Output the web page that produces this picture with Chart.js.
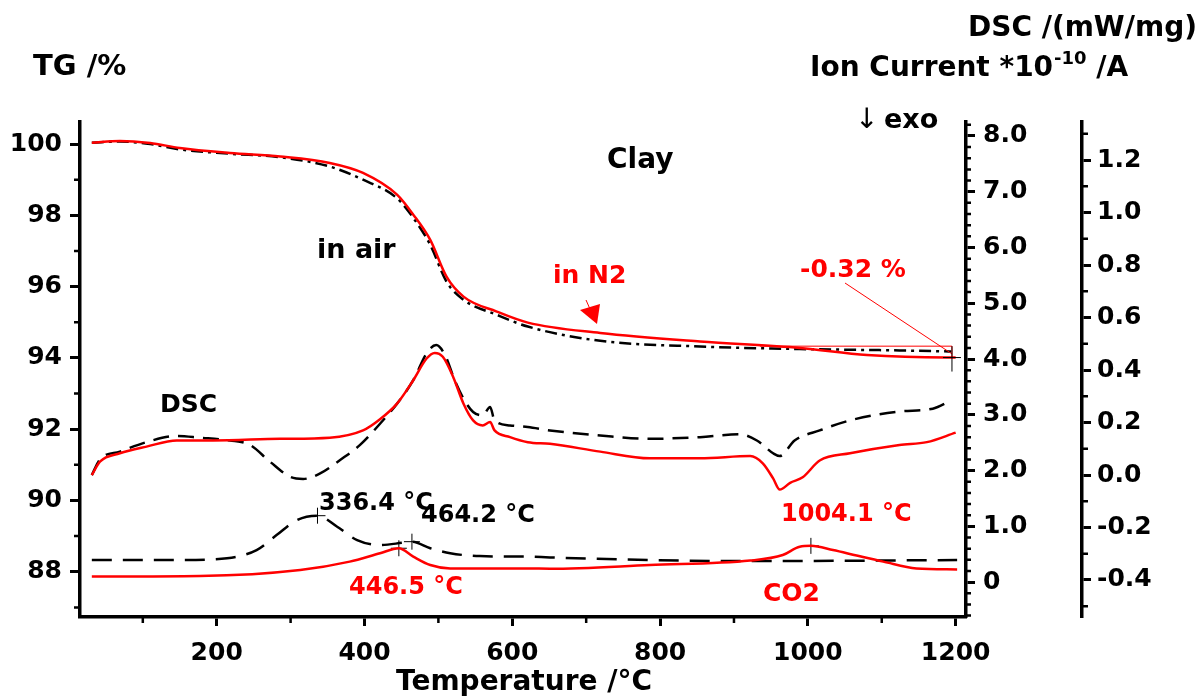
<!DOCTYPE html>
<html>
<head>
<meta charset="utf-8">
<script src="https://cdn.jsdelivr.net/npm/chart.js@4.4.0/dist/chart.umd.min.js"></script>
<style>
  html, body { margin: 0; padding: 0; background: #fff; }
  #wrap { width: 1204px; height: 697px; }
</style>
</head>
<body>
<div id="wrap"><canvas id="chart" width="1204" height="697"></canvas></div>
<script>
// --- values ---
// TG (%) in N2 and in air
const tgN2Temp = [31, 69, 110, 150, 218, 286, 353, 398, 444, 466, 489, 511, 534, 579, 621, 719, 854, 989, 1080, 1188, 1200];
const tgN2 = [100.04, 100.09, 100.03, 99.89, 99.75, 99.65, 99.47, 99.19, 98.58, 98.02, 97.31, 96.28, 95.72, 95.30, 94.99, 94.70, 94.46, 94.28, 94.08, 94.01, 94.01];
const tgAirTemp = [31, 69, 110, 150, 218, 286, 353, 398, 444, 466, 489, 511, 534, 579, 621, 719, 854, 989, 1124, 1194];
const tgAir = [100.04, 100.07, 100.0, 99.85, 99.73, 99.63, 99.37, 99.0, 98.48, 97.93, 97.17, 96.14, 95.63, 95.21, 94.88, 94.48, 94.32, 94.25, 94.21, 94.18];

// DSC (mW/mg)
const dscN2Temp = [31, 42, 69, 105, 146, 195, 286, 353, 398, 421, 444, 466, 484, 495, 506, 520, 534, 547, 560, 570, 576, 597, 621, 651, 719, 786, 854, 922, 939, 953, 962, 976, 993, 1016, 1057, 1124, 1161, 1200];
const dscN2 = [1.92, 2.16, 2.31, 2.43, 2.54, 2.54, 2.57, 2.59, 2.72, 2.92, 3.2, 3.62, 4.01, 4.11, 4.04, 3.68, 3.2, 2.9, 2.81, 2.87, 2.72, 2.6, 2.51, 2.48, 2.34, 2.22, 2.22, 2.26, 2.13, 1.86, 1.66, 1.78, 1.88, 2.18, 2.31, 2.46, 2.51, 2.68];
const dscAirTemp = [31, 42, 69, 105, 146, 177, 218, 245, 272, 299, 317, 340, 367, 394, 421, 444, 466, 484, 497, 509, 522, 534, 547, 560, 570, 576, 597, 621, 651, 719, 786, 854, 908, 931, 953, 962, 982, 1016, 1057, 1124, 1169, 1194];
const dscAir = [1.92, 2.2, 2.34, 2.51, 2.62, 2.59, 2.54, 2.46, 2.16, 1.89, 1.85, 1.95, 2.19, 2.46, 2.84, 3.2, 3.62, 4.1, 4.25, 4.07, 3.62, 3.29, 3.05, 2.99, 3.14, 2.9, 2.81, 2.78, 2.72, 2.63, 2.57, 2.6, 2.65, 2.54, 2.31, 2.26, 2.54, 2.72, 2.9, 3.06, 3.11, 3.26];

// Ion current CO2 (*10^-10 A)
const co2AirTemp = [31, 150, 214, 254, 281, 309, 336.4, 363, 390, 421, 452, 464.2, 489, 516, 556, 621, 651, 786, 922, 1202];
const co2Air = [-0.324, -0.324, -0.317, -0.286, -0.229, -0.171, -0.155, -0.197, -0.248, -0.267, -0.258, -0.254, -0.279, -0.298, -0.309, -0.311, -0.314, -0.324, -0.328, -0.324];
const co2N2Temp = [31, 177, 313, 380, 421, 446.5, 466, 489, 516, 621, 651, 786, 922, 966, 989, 1004.1, 1034, 1066, 1102, 1147, 1202];
const co2N2 = [-0.387, -0.385, -0.362, -0.33, -0.298, -0.279, -0.311, -0.343, -0.356, -0.356, -0.357, -0.343, -0.326, -0.305, -0.273, -0.27, -0.286, -0.307, -0.33, -0.356, -0.36];

// peak markers
const airPeakTemp = [336.4, 464.2];
const airPeakVal = [-0.155, -0.254];
const n2PeakTemp = [446.5, 1004.1];
const n2PeakVal = [-0.279, -0.27];

// mass step at the end of the N2 run (-0.32 %)
const stepTemp = [935, 1195];
const stepTg = [94.33, 94.01];

// ticks
const tempTicks = [200, 400, 600, 800, 1000, 1200];
const tgTicks = [88, 90, 92, 94, 96, 98, 100];
const dscTicks = [0, 1, 2, 3, 4, 5, 6, 7, 8];
const ionTicks = [-0.4, -0.2, 0, 0.2, 0.4, 0.6, 0.8, 1.0, 1.2];

const RED = '#ff0000';
const FONT = 'DejaVu Sans';

function pts(xs, ys) {
    return xs.map((x, i) => ({ x: x, y: ys[i] }));
}

function fixedTicks(list) {
    return function (scale) {
        scale.ticks = list.map(v => ({ value: v }));
    };
}

function minorList(min, max, step, skipEvery) {
    const out = [];
    for (let i = Math.ceil(min / step); i * step <= max + 1e-9; i++) {
        if (i % skipEvery !== 0) out.push(+(i * step).toFixed(3));
    }
    return out;
}

// minor ticks, drawn by hand (Chart.js has none)
const minorTicks = {
    id: 'minorTicks',
    afterDraw(chart) {
        const ctx = chart.ctx;
        const s = chart.scales;
        ctx.save();
        ctx.strokeStyle = '#000';
        ctx.lineWidth = 2.5;
        ctx.beginPath();
        minorList(s.x.min, s.x.max, 100, 2).forEach(v => {
            const px = s.x.getPixelForValue(v);
            ctx.moveTo(px, s.x.top); ctx.lineTo(px, s.x.top + 6);
        });
        minorList(s.y.min, s.y.max, 1, 2).forEach(v => {
            const py = s.y.getPixelForValue(v);
            ctx.moveTo(s.y.right, py); ctx.lineTo(s.y.right - 6, py);
        });
        minorList(s.y1.min, s.y1.max, 0.2, 5).forEach(v => {
            const py = s.y1.getPixelForValue(v);
            ctx.moveTo(s.y1.left, py); ctx.lineTo(s.y1.left + 5, py);
        });
        minorList(s.y2.min, s.y2.max, 0.1, 2).forEach(v => {
            const py = s.y2.getPixelForValue(v);
            ctx.moveTo(s.y2.left, py); ctx.lineTo(s.y2.left + 6, py);
        });
        ctx.stroke();
        ctx.restore();
    }
};

// titles, labels and the small annotations
const labels = {
    id: 'labels',
    afterDraw(chart) {
        const ctx = chart.ctx;
        const s = chart.scales;
        ctx.save();
        ctx.textBaseline = 'alphabetic';

        const text = (str, x, y, size, color, align, weight) => {
            ctx.font = (weight || 'bold') + ' ' + size + 'px "' + FONT + '"';
            ctx.fillStyle = color || '#000';
            ctx.textAlign = align || 'left';
            ctx.fillText(str, x, y);
        };

        text('TG /%', 33, 75, 29);
        text('DSC /(mW/mg)', 1197, 36, 28, '#000', 'right');

        // Ion Current *10^-10 /A
        ctx.font = 'bold 28px "' + FONT + '"';
        let x = 810;
        text('Ion Current *10', x, 76, 28);
        x += ctx.measureText('Ion Current *10').width + 1;
        ctx.font = 'bold 18px "' + FONT + '"';
        text('-10', x, 64, 18);
        ctx.font = 'bold 18px "' + FONT + '"';
        x += ctx.measureText('-10').width;
        text(' /A', x, 76, 28);

        text('\u2193', 855, 128, 28, '#000', 'left', 'normal');
        text('exo', 884, 128, 27);
        text('Clay', 607, 168, 28);
        text('in air', 317, 258, 27);
        text('in N2', 553, 283, 25, RED);
        text('-0.32 %', 800, 277, 25, RED);
        text('DSC', 160, 412, 25);
        text('336.4 \u00B0C', 319, 510, 24);
        text('464.2 \u00B0C', 421, 522, 24);
        text('446.5 \u00B0C', 349, 594, 24, RED);
        text('1004.1 \u00B0C', 781, 521, 24, RED);
        text('CO2', 763, 601, 25, RED);
        text('Temperature /\u00B0C', 524, 690, 28, '#000', 'center');

        // red arrow pointing at the N2 curve
        ctx.strokeStyle = RED;
        ctx.fillStyle = RED;
        ctx.lineWidth = 1;
        ctx.beginPath();
        ctx.moveTo(586, 300); ctx.lineTo(590, 309);
        ctx.stroke();
        ctx.beginPath();
        ctx.moveTo(580, 310); ctx.lineTo(600, 304); ctx.lineTo(597, 324);
        ctx.closePath();
        ctx.fill();

        // mass step and leader line of the -0.32 % label
        const x0 = s.x.getPixelForValue(stepTemp[0]);
        const x1 = s.x.getPixelForValue(stepTemp[1]);
        const yTop = s.y.getPixelForValue(stepTg[0]);
        const yBot = s.y.getPixelForValue(stepTg[1]);
        ctx.beginPath();
        ctx.moveTo(x0, yTop); ctx.lineTo(x1, yTop); ctx.lineTo(x1, yBot);
        ctx.moveTo(845, 283); ctx.lineTo(x1, (yTop + yBot) / 2 + 2);
        ctx.stroke();

        // cross at the end of the TG curves
        ctx.strokeStyle = '#000';
        ctx.beginPath();
        ctx.moveTo(x1 - 9, yBot); ctx.lineTo(x1 + 9, yBot);
        ctx.moveTo(x1, yTop); ctx.lineTo(x1, yBot + 14);
        ctx.stroke();
        ctx.restore();
    }
};

const tickFont = { family: FONT, size: 25, weight: 'bold' };
const axisGrid = { display: true, drawOnChartArea: false, color: '#000', tickLength: 9, tickWidth: 3 };
const axisBorder = { display: true, color: '#000', width: 3.5 };

const lineBase = { pointRadius: 0, borderWidth: 2.5, fill: false, cubicInterpolationMode: 'monotone' };

new Chart(document.getElementById('chart'), {
    type: 'line',
    data: {
        datasets: [
            Object.assign({ label: 'TG N2', data: pts(tgN2Temp, tgN2), borderColor: RED, yAxisID: 'y' }, lineBase),
            Object.assign({ label: 'DSC N2', data: pts(dscN2Temp, dscN2), borderColor: RED, yAxisID: 'y1' }, lineBase),
            Object.assign({ label: 'CO2 N2', data: pts(co2N2Temp, co2N2), borderColor: RED, yAxisID: 'y2' }, lineBase),
            Object.assign({ label: 'TG air', data: pts(tgAirTemp, tgAir), borderColor: '#000', borderDash: [12, 5, 3, 5], yAxisID: 'y' }, lineBase),
            Object.assign({ label: 'DSC air', data: pts(dscAirTemp, dscAir), borderColor: '#000', borderDash: [16, 9], yAxisID: 'y1' }, lineBase),
            Object.assign({ label: 'CO2 air', data: pts(co2AirTemp, co2Air), borderColor: '#000', borderDash: [20, 11], yAxisID: 'y2' }, lineBase),
            {
                label: 'air peaks', data: pts(airPeakTemp, airPeakVal), yAxisID: 'y2', showLine: false,
                pointStyle: 'cross', pointRadius: 8, borderColor: '#000', borderWidth: 1
            },
            {
                label: 'N2 peaks', data: pts(n2PeakTemp, n2PeakVal), yAxisID: 'y2', showLine: false,
                pointStyle: 'cross', pointRadius: 8, borderColor: '#000', borderWidth: 1
            }
        ]
    },
    options: {
        responsive: false,
        animation: false,
        layout: { padding: { top: 122, left: 0, right: 0, bottom: 0 } },
        plugins: { legend: { display: false }, tooltip: { enabled: false } },
        scales: {
            x: {
                type: 'linear', position: 'bottom', min: 15, max: 1214,
                afterBuildTicks: fixedTicks(tempTicks),
                afterFit: scale => { scale.height = 80; },
                grid: axisGrid, border: axisBorder,
                ticks: { font: tickFont, color: '#000', padding: 12, maxRotation: 0, callback: v => String(v) }
            },
            y: {
                type: 'linear', position: 'left', min: 86.73, max: 100.62,
                afterBuildTicks: fixedTicks(tgTicks),
                afterFit: scale => { scale.width = 80; },
                grid: Object.assign({}, axisGrid, { tickLength: 10 }), border: axisBorder,
                ticks: { font: tickFont, color: '#000', padding: 8, callback: v => String(v) }
            },
            y1: {
                type: 'linear', position: 'right', min: -0.625, max: 8.25,
                afterBuildTicks: fixedTicks(dscTicks),
                afterFit: scale => { scale.width = 116; },
                grid: axisGrid, border: axisBorder,
                ticks: { font: tickFont, color: '#000', padding: 8, callback: v => v === 0 ? '0' : v.toFixed(1) }
            },
            y2: {
                type: 'linear', position: 'right', min: -0.541, max: 1.345,
                afterBuildTicks: fixedTicks(ionTicks),
                afterFit: scale => { scale.width = 122; },
                grid: axisGrid, border: axisBorder,
                ticks: { font: tickFont, color: '#000', padding: 6, callback: v => v.toFixed(1) }
            }
        }
    },
    plugins: [minorTicks, labels]
});
</script>
</body>
</html>
